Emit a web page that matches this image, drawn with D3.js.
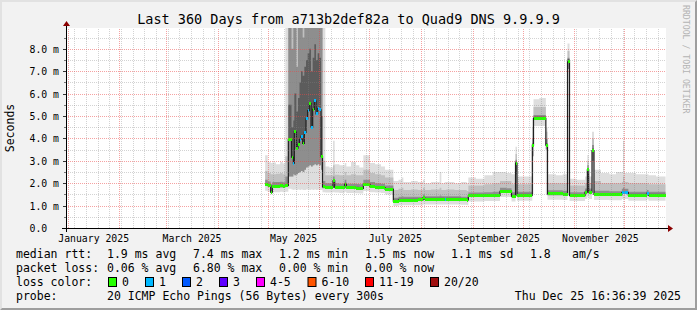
<!DOCTYPE html>
<html><head><meta charset="utf-8">
<script src="https://cdn.jsdelivr.net/npm/d3@7"></script>
<style>
html,body{margin:0;padding:0;background:#f2f2f2;}
svg{display:block;}
text{font-family:"DejaVu Sans Mono",monospace;white-space:pre;}
</style></head><body>
<svg id="c" width="697" height="310"></svg>
<script>
// ---------------- data ----------------
const title = "Last 360 Days from a713b2def82a to Quad9 DNS 9.9.9.9";
const yAxisTitle = "Seconds";
const endTimeUtc = Date.UTC(2025, 11, 25, 16, 36, 39);
const spanDays = 360;
const yLabelValues = [0, 1, 2, 3, 4, 5, 6, 7, 8];
const dataEndDay = 358.7;
// step start, in days after 2025-01-01 00:00
const day = [118.5,120.0,121.8,122.8,125.0,127.5,129.0,130.6,
  132.4,134.3,135.4,136.0,137.2,138.2,139.1,140.0,141.0,142.0,143.0,144.0,145.0,146.0,147.0,148.0,149.0,150.0,151.0,152.0,
  152.9,154.6,157.0,159.2,160.2,163.0,166.2,167.2,170.0,173.0,175.0,177.4,181.4,184.4,188.0,190.4,
  195.4,198.5,200.4,201.4,206.0,210.0,213.2,214.2,218.0,223.2,224.2,226.2,227.2,232.0,236.0,239.4,
  240.4,245.0,250.0,255.0,259.4,263.0,266.3,268.7,269.6,274.0,
  278.8,279.5,283.0,286.9,287.9,293.0,297.0,299.9,301.1,305.0,
  310.4,311.8,312.6,314.6,315.8,320.0,325.0,329.0,332.5,333.2,334.0,336.4,341.0,347.5,348.5,353.0];
// median rtt (ms)
const median = [1.95,1.90,1.60,1.86,1.86,1.88,1.86,1.90,
  3.96,3.16,2.89,4.30,3.56,3.75,3.96,4.10,3.78,4.27,4.87,5.24,5.57,4.50,5.30,5.67,5.09,5.33,5.27,3.18,
  1.84,1.82,1.82,2.10,1.82,1.80,1.96,1.80,1.80,1.78,1.77,1.95,1.85,1.82,1.80,1.73,
  1.20,1.25,1.25,1.25,1.25,1.26,1.35,1.29,1.29,1.29,1.29,1.28,1.29,1.29,1.27,1.25,
  1.43,1.43,1.45,1.45,1.64,1.62,1.42,2.90,1.47,1.47,
  3.70,4.90,4.90,3.70,1.52,1.52,1.50,7.42,1.45,1.44,
  1.60,2.60,1.60,3.45,1.50,1.50,1.48,1.48,1.58,1.58,1.58,1.47,1.47,1.55,1.47,1.47];
// fastest ping
const pingMin = [1.66,1.62,1.50,1.60,1.60,1.62,1.60,1.62,
  1.75,1.72,1.70,1.72,1.70,1.72,1.70,1.72,1.70,1.70,1.72,1.72,1.70,1.72,1.70,1.72,1.70,1.72,1.70,1.70,
  1.60,1.58,1.58,1.60,1.58,1.56,1.62,1.56,1.56,1.55,1.54,1.65,1.60,1.58,1.56,1.50,
  0.98,1.02,1.02,1.02,1.02,1.02,1.05,1.05,1.05,1.05,1.05,1.05,1.05,1.05,1.04,1.02,
  1.18,1.18,1.20,1.20,1.38,1.38,1.18,1.40,1.22,1.22,
  1.50,4.55,4.55,1.50,1.26,1.26,1.25,1.50,1.20,1.20,
  1.30,1.40,1.30,1.50,1.25,1.25,1.24,1.24,1.30,1.30,1.30,1.22,1.22,1.28,1.22,1.22];
// lower quartile ping
const pingQ1 = [1.88,1.83,1.56,1.80,1.80,1.81,1.80,1.84,
  2.30,2.30,2.40,2.35,2.40,2.45,2.50,2.55,2.50,2.60,2.70,2.75,2.80,2.75,2.80,2.85,2.80,2.85,2.80,2.60,
  1.78,1.76,1.76,1.80,1.76,1.74,1.85,1.74,1.74,1.72,1.72,1.88,1.80,1.76,1.74,1.68,
  1.15,1.20,1.20,1.20,1.20,1.20,1.25,1.24,1.24,1.24,1.24,1.24,1.24,1.24,1.22,1.20,
  1.38,1.38,1.40,1.40,1.58,1.56,1.36,2.40,1.42,1.42,
  3.20,4.82,4.82,3.50,1.46,1.46,1.45,7.10,1.40,1.39,
  1.54,2.20,1.54,3.00,1.45,1.45,1.43,1.43,1.52,1.52,1.52,1.42,1.42,1.48,1.42,1.42];
// 60th percentile ping
const pingP60 = [2.01,1.96,1.66,1.92,1.92,1.94,1.92,1.96,
  5.5,4.5,4.8,6.0,5.2,5.8,6.5,7.0,6.8,7.2,7.5,7.8,8.0,7.0,7.6,8.2,7.5,7.8,7.6,5.0,
  1.90,1.88,1.88,2.16,1.88,1.86,2.02,1.86,1.86,1.84,1.83,2.01,1.91,1.88,1.86,1.79,
  1.26,1.31,1.31,1.31,1.31,1.32,1.41,1.35,1.35,1.35,1.35,1.34,1.35,1.35,1.33,1.31,
  1.49,1.49,1.51,1.51,1.70,1.68,1.48,2.98,1.53,1.53,
  3.78,4.98,4.98,3.78,1.58,1.58,1.56,7.55,1.51,1.50,
  1.66,2.68,1.66,3.55,1.56,1.56,1.54,1.54,1.64,1.64,1.64,1.53,1.53,1.61,1.53,1.53];
// upper quartile ping
const pingQ3 = [2.15,2.08,1.95,2.05,2.05,2.06,2.04,2.30,
  9.5,8.0,9.5,9.5,7.2,9.5,9.5,9.5,8.5,9.5,9.5,9.5,9.5,9.5,9.5,9.5,9.5,9.5,9.5,9.5,
  2.10,2.00,2.00,2.30,2.00,1.98,2.15,1.98,1.98,1.96,1.95,2.15,2.05,2.00,1.98,1.90,
  1.35,1.40,1.42,1.40,1.40,1.40,1.50,1.42,1.42,1.45,1.42,1.42,1.42,1.42,1.40,1.38,
  1.58,1.58,1.60,1.62,1.80,1.78,1.60,3.05,1.62,1.62,
  4.00,5.05,5.05,4.00,1.68,1.68,1.66,7.60,1.60,1.60,
  1.76,2.80,1.76,3.70,1.66,1.66,1.64,1.64,1.75,1.80,1.75,1.62,1.62,1.70,1.62,1.62];
// 90th percentile ping
const pingP90 = [2.55,2.45,2.40,2.40,2.42,2.45,2.40,3.20,
  11,11,11,11,11,11,11,11,11,11,11,11,11,11,11,11,11,11,11,11,
  3.00,2.35,2.35,2.80,2.38,2.35,2.50,2.35,2.40,2.35,2.35,2.60,2.45,2.40,2.35,2.25,
  1.70,1.75,1.80,1.70,1.72,1.70,1.80,1.70,1.72,1.80,1.70,1.70,1.72,1.70,1.70,1.65,
  1.90,1.90,1.95,2.00,2.10,2.10,1.95,3.30,1.95,1.95,
  4.50,5.40,5.40,4.30,2.00,2.00,2.00,7.90,1.90,1.90,
  2.00,3.00,2.00,4.00,2.10,2.00,2.00,2.00,2.05,2.30,2.05,2.00,2.00,2.00,1.95,1.95];
// slowest ping
const pingMax = [3.25,2.95,2.90,2.92,2.85,2.95,2.88,12,
  12,12,12,12,12,12,12,12,12,12,12,12,12,12,12,12,12,12,12,12,
  12,2.75,2.70,3.90,2.85,2.80,2.90,2.75,2.95,2.80,2.70,3.25,2.90,2.85,2.75,2.60,
  2.10,2.15,2.25,2.05,2.10,2.05,2.15,2.00,2.05,2.50,2.00,2.05,2.05,2.00,2.05,2.00,
  2.25,2.20,2.35,2.50,2.50,2.45,2.40,3.63,2.30,2.30,
  4.90,5.75,5.80,4.50,2.40,2.35,2.40,8.24,2.20,2.15,
  2.30,3.26,2.30,4.30,2.60,2.45,2.40,2.50,2.50,3.90,2.45,2.45,2.40,2.40,2.35,2.30];
// lost packets class (0 = none, 1 = one of 20)
const lossClass = [0,0,0,0,0,0,0,0,
  0,0,1,0,0,0,1,1,0,1,1,1,0,1,0,1,1,1,1,0,
  0,0,0,0,0,0,0,0,0,0,0,0,0,0,0,0,
  0,0,0,0,0,0,0,0,0,0,0,1,0,0,0,0,
  0,0,0,0,0,0,0,0,0,0,
  0,0,0,0,0,0,0,0,0,0,
  0,0,0,0,0,0,0,0,1,1,1,0,0,1,0,0];
const lossLabels = ["0","1","2","3","4-5","6-10","11-19","20/20"];
const lossColors = ["#26ff00","#00b8ff","#0059ff","#5e00ff","#ff00ff","#ff5500","#ff0000","#a01010"];
const statRows = [
  {label:"median rtt:", items:[["1.9 ms avg",107],["7.4 ms max",193],["1.2 ms min",279],["1.5 ms now",365],["1.1 ms sd",451],["1.8",530],["am/s",572]]},
  {label:"packet loss:", items:[["0.06 % avg",107],["6.80 % max",193],["0.00 % min",279],["0.00 % now",365]]}
];
const probeText = "20 ICMP Echo Pings (56 Bytes) every 300s";
const stampText = "Thu Dec 25 16:36:39 2025";
const watermark = "RRDTOOL / TOBI OETIKER";

// ---------------- layout ----------------
const W = 697, H = 310;
const X0 = 66, XS = 600, Y0 = 228, YS = 200;
const PX_PER_MS = 22.4;
const svg = d3.select("#c");
const endT = new Date(endTimeUtc);
const startT = new Date(endTimeUtc - spanDays * 864e5);
const x = d3.scaleUtc().domain([startT, endT]).range([X0 - 0.5, X0 + XS - 0.5]);
const y = d3.scaleLinear().domain([0, YS / PX_PER_MS]).range([Y0, Y0 - YS]);
const base = Date.UTC(2025, 0, 1);
const toDate = d => new Date(base + d * 864e5);

// background + shade frame
svg.append("rect").attr("width", W).attr("height", H).attr("fill", "#f2f2f2");
svg.append("path").attr("d", `M0,${H} L2,${H-2} L2,2 L${W-2},2 L${W},0 L0,0 Z`).attr("fill", "#e2e2e2");
svg.append("path").attr("d", `M2,${H-2} L${W-2},${H-2} L${W-2},2 L${W},0 L${W},${H} L0,${H} Z`).attr("fill", "#9e9e9e");
svg.append("rect").attr("x", X0).attr("y", Y0 - YS).attr("width", XS).attr("height", YS).attr("fill", "#ffffff");

svg.append("clipPath").attr("id", "clip").append("rect")
  .attr("x", X0).attr("y", Y0 - YS).attr("width", XS).attr("height", YS);
const plot = svg.append("g").attr("clip-path", "url(#clip)");

// points (with a closing point at data end for step shapes)
const pts = day.map((d, i) => ({d, med: median[i], mn: pingMin[i], q1: pingQ1[i], p60: pingP60[i], q3: pingQ3[i], p90: pingP90[i], mx: pingMax[i], loss: lossClass[i]}));
const stepPts = pts.concat([Object.assign({}, pts[pts.length - 1], {d: dataEndDay})]);
const band = (lo, hi) => d3.area().curve(d3.curveStepAfter)
  .x(p => x(toDate(p.d))).y0(p => y(p[lo])).y1(p => y(p[hi]));
plot.append("path").attr("d", band("mn", "mx")(stepPts)).attr("fill", "#dedede");
plot.append("path").attr("d", band("q1", "p90")(stepPts)).attr("fill", "#c0c0c0");
plot.append("path").attr("d", band("q1", "q3")(stepPts)).attr("fill", "#8e8e8e");
plot.append("path").attr("d", band("med", "p60")(stepPts)).attr("fill", "#5c5c5c");

// median line
plot.append("path")
  .attr("d", d3.line().curve(d3.curveStepAfter).x(p => x(toDate(p.d))).y(p => y(p.med))(stepPts))
  .attr("fill", "none").attr("stroke", "#202020").attr("stroke-width", 1.2);
// loss-coloured median band
pts.forEach((p, i) => {
  const x1 = x(toDate(p.d)), x2 = x(toDate(i + 1 < pts.length ? pts[i + 1].d : dataEndDay));
  plot.append("rect").attr("x", x1).attr("width", Math.max(1, x2 - x1))
    .attr("y", y(p.med) - 1.5).attr("height", 3)
    .attr("fill", lossColors[p.loss]).attr("shape-rendering", "crispEdges");
});

// grid (drawn over the graph, like rrdtool)
const grid = svg.append("g");
d3.utcSunday.range(startT, endT).forEach(t => {
  const xx = Math.round(x(t)) + 0.5;
  if (xx < X0 + 1) return;
  grid.append("line").attr("x1", xx).attr("x2", xx).attr("y1", Y0).attr("y2", Y0 - YS)
    .attr("stroke", "rgba(128,128,128,0.35)").attr("stroke-dasharray", "1,1");
});
d3.range(0.5, YS / PX_PER_MS, 0.5).forEach(v => {
  if (v % 1 === 0) return;
  const yy = Math.round(y(v)) + 0.5;
  grid.append("line").attr("x1", X0).attr("x2", X0 + XS).attr("y1", yy).attr("y2", yy)
    .attr("stroke", "rgba(128,128,128,0.35)").attr("stroke-dasharray", "1,1");
  grid.append("line").attr("x1", X0 - 2).attr("x2", X0).attr("y1", yy).attr("y2", yy).attr("stroke", "#777");
});
const months = d3.utcMonth.range(startT, endT);
months.forEach(t => {
  const xx = Math.round(x(t)) + 0.5;
  grid.append("line").attr("x1", xx).attr("x2", xx).attr("y1", Y0).attr("y2", Y0 - YS)
    .attr("stroke", "rgba(235,70,70,0.5)").attr("stroke-dasharray", "1,1");
});
yLabelValues.forEach(v => {
  const yy = Math.round(y(v)) + 0.5;
  if (v > 0) grid.append("line").attr("x1", X0).attr("x2", X0 + XS).attr("y1", yy).attr("y2", yy)
    .attr("stroke", "rgba(235,70,70,0.5)").attr("stroke-dasharray", "1,1");
  grid.append("line").attr("x1", X0 - 3).attr("x2", X0).attr("y1", yy).attr("y2", yy).attr("stroke", "#333");
  svg.append("text").attr("x", 29.5).attr("y", yy + 3.5)
    .style("font-size", "9.8px").attr("fill", "#000")
    .text(v === 0 ? "0.0" : d3.format(".1f")(v) + " m");
});

// month labels, every second month centred half a month in
months.filter(t => t.getUTCMonth() % 2 === 0).forEach(t => {
  const c = x(d3.utcDay.offset(t, 15)) + 1;
  svg.append("text").attr("x", c).attr("y", 242).attr("text-anchor", "middle")
    .style("font-size", "9.8px").text(d3.utcFormat("%B %Y")(t));
});

// axes
svg.append("line").attr("x1", X0 - 4).attr("x2", X0 + XS + 4).attr("y1", Y0 + 0.5).attr("y2", Y0 + 0.5).attr("stroke", "#000");
svg.append("line").attr("x1", X0 + 0.5).attr("x2", X0 + 0.5).attr("y1", Y0 + 4).attr("y2", Y0 - YS - 4).attr("stroke", "#000");
svg.append("path").attr("d", `M${X0+XS+2},${Y0-3} L${X0+XS+2},${Y0+4} L${X0+XS+7},${Y0+0.5} Z`).attr("fill", "#8b0000");
svg.append("path").attr("d", `M${X0-3},${Y0-YS-2} L${X0+4},${Y0-YS-2} L${X0+0.5},${Y0-YS-7} Z`).attr("fill", "#8b0000");

// title and unit
svg.append("text").attr("x", W / 2).attr("y", 24).attr("text-anchor", "middle")
  .style("font-size", "13.5px").text(title);
svg.append("text").attr("transform", `translate(14,${Y0 - YS / 2}) rotate(-90)`).attr("text-anchor", "middle")
  .style("font-size", "11.5px").text(yAxisTitle);
svg.append("text").attr("transform", `translate(683,5) rotate(90)`).attr("text-anchor", "start")
  .style("font-size", "8.2px").attr("fill", "#b4b4b4").text(watermark);

// legend
const LF = "11.5px";
statRows.forEach((r, k) => {
  const by = 258 + k * 14;
  svg.append("text").attr("x", 16).attr("y", by).style("font-size", LF).text(r.label);
  r.items.forEach(([t, xx]) => svg.append("text").attr("x", xx).attr("y", by).style("font-size", LF).text(t));
});
svg.append("text").attr("x", 16).attr("y", 286).style("font-size", LF).text("loss color:");
const boxX = [108, 145, 182, 219, 256, 307.5, 365, 430];
lossLabels.forEach((l, i) => {
  svg.append("rect").attr("x", boxX[i] + 0.5).attr("y", 277.5).attr("width", 8).attr("height", 9)
    .attr("fill", lossColors[i]).attr("stroke", "#000").attr("stroke-width", 1);
  svg.append("text").attr("x", boxX[i] + 14).attr("y", 286).style("font-size", LF).text(l);
});
svg.append("text").attr("x", 16).attr("y", 300).style("font-size", LF).text("probe:");
svg.append("text").attr("x", 107).attr("y", 300).style("font-size", LF).text(probeText);
svg.append("text").attr("x", 681).attr("y", 300).attr("text-anchor", "end").style("font-size", LF).text(stampText);
</script>
</body></html>
